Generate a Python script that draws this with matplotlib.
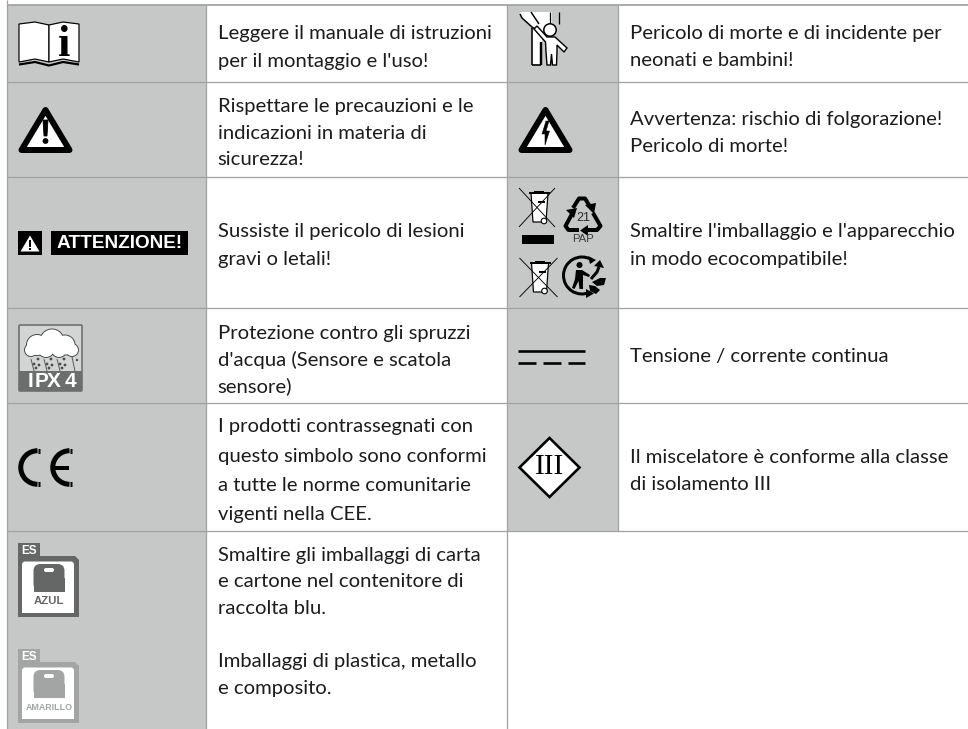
import matplotlib
matplotlib.use('Agg')
import matplotlib.pyplot as plt
from matplotlib.patches import Polygon, Rectangle, Circle, Arc, FancyBboxPatch

# table geometry (pixels)
row_edges = [4.7, 82.3, 176.5, 308.3, 402.5, 531]
col_edges = [7.3, 205.7, 507, 617.7]
GRAY = '#c6c8c8'
LINE = '#a2a4a4'
INK = '#1c1c1c'
FONT = 'Lato'
SIZE = 14.6

left_lines = ["Leggere il manuale di istruzioni", "per il montaggio e l'uso!",
              "Rispettare le precauzioni e le", "indicazioni in materia di", "sicurezza!",
              "Sussiste il pericolo di lesioni", "gravi o letali!",
              "Protezione contro gli spruzzi", "d'acqua (Sensore e scatola", "sensore)",
              "I prodotti contrassegnati con", "questo simbolo sono conformi",
              "a tutte le norme comunitarie", "vigenti nella CEE.",
              "Smaltire gli imballaggi di carta", "e cartone nel contenitore di", "raccolta blu.",
              "Imballaggi di plastica, metallo", "e composito."]
left_baselines = [39, 66.5, 111.7, 138.5, 165, 237, 265, 339, 365.5, 391.7,
                  432, 461.7, 490.7, 520, 560.7, 587, 614, 666.7, 694]

right_lines = ["Pericolo di morte e di incidente per", "neonati e bambini!",
               "Avvertenza: rischio di folgorazione!", "Pericolo di morte!",
               "Smaltire l'imballaggio e l'apparecchio", "in modo ecocompatibile!",
               "Tensione / corrente continua",
               "Il miscelatore è conforme alla classe", "di isolamento III"]
right_baselines = [39, 66, 125, 151.7, 237, 265, 362, 463, 490]

fig = plt.figure(figsize=(9.68, 7.29), dpi=100)
ax = fig.add_axes([0, 0, 1, 1])
ax.set_xlim(0, 968)
ax.set_ylim(729, 0)
ax.axis('off')

PX = 0.72  # one pixel in points


def poly(pts, fc='white', ec='black', lw=1.0, z=3, join='miter'):
    ax.add_patch(Polygon(pts, closed=True, fc=fc, ec=ec, lw=lw * PX, zorder=z, joinstyle=join))


def line(xs, ys, color='black', lw=1.0, z=4, cap='butt'):
    ax.plot(xs, ys, color=color, lw=lw * PX, zorder=z, solid_capstyle=cap, solid_joinstyle='round')


def rect(x0, y0, x1, y1, fc='black', ec='none', lw=0, z=3):
    ax.add_patch(Rectangle((x0, y0), x1 - x0, y1 - y0, fc=fc, ec=ec, lw=lw * PX, zorder=z))


def dot(x, y, r, fc='black', ec='none', lw=0, z=4):
    ax.add_patch(Circle((x, y), r, fc=fc, ec=ec, lw=lw * PX, zorder=z))


# grid -----------------------------------------------------------------
bottom = 729
rect(col_edges[0], row_edges[0], col_edges[1], bottom, fc=GRAY, z=1)
rect(col_edges[2], row_edges[0], col_edges[3], row_edges[-1], fc=GRAY, z=1)
for y in row_edges:
    line([col_edges[0], 968], [y, y], LINE, 1.3 if y > 5 else 1.8, z=2)
line([col_edges[0]] * 2, [0, bottom], LINE, 1.3, z=2)
line([col_edges[1]] * 2, [row_edges[0], bottom], LINE, 1.3, z=2)
line([col_edges[2]] * 2, [row_edges[0], bottom], LINE, 1.3, z=2)
line([col_edges[3]] * 2, [row_edges[0], row_edges[-1]], LINE, 1.3, z=2)

# text -----------------------------------------------------------------
for s, y in zip(left_lines, left_baselines):
    ax.text(217.5, y, s, family=FONT, size=SIZE, color=INK, va='baseline', ha='left')
for s, y in zip(right_lines, right_baselines):
    ax.text(629.5, y, s, family=FONT, size=SIZE, color=INK, va='baseline', ha='left')


# icons ----------------------------------------------------------------
def warning_triangle(cx, top, w, h):
    poly([(cx, top), (cx + w / 2, top + h), (cx - w / 2, top + h)], lw=6, join='round')


# book
poly([(19, 24), (35, 22), (49, 25), (49, 62), (35, 59), (19, 62)], lw=1.2)
poly([(49, 25), (63, 22), (79, 24), (79, 62), (63, 59), (49, 62)], lw=1.2)
line([19, 35, 49, 63, 79], [64.5, 62, 65.5, 62, 64.5], lw=2.2)
ax.text(64, 55.5, 'i', family='Liberation Serif', weight='bold', size=32, color='black',
        ha='center', va='baseline', zorder=5)

warning_triangle(45.5, 110, 48, 40)
poly([(43, 120), (48, 120), (47, 136), (44, 136)], fc='black', lw=0.8, z=4)
dot(45.5, 141, 2.9)

# attention label
rect(18, 231, 42, 255)
poly([(30, 235.5), (39.5, 251.5), (20.5, 251.5)], ec='none', lw=0, z=4)
rect(29, 240, 31, 247, z=5)
rect(29, 248, 31, 250, z=5)
rect(51, 231, 188, 255)
ax.text(119.5, 243.5, 'ATTENZIONE!', family='Liberation Sans', weight='bold', size=13.7,
        color='white', ha='center', va='center', zorder=5)

# IPX4
ax.add_patch(FancyBboxPatch((19, 325), 63, 66, boxstyle='round,pad=0,rounding_size=1',
                            fc='#d3d5d5', ec='#6c6e6e', lw=1.6 * PX, zorder=3))
rect(19, 371, 82, 391, fc='#6c6e6e', z=4)
for ch, x in zip('IPX4', [30.5, 41.5, 54, 70]):
    ax.text(x, 381.5, ch, family='Liberation Sans', weight='bold', size=15, color='white',
            ha='center', va='center', zorder=5)
cloud = [(37, 345, 10), (52, 341, 11.5), (65, 345, 9.5), (72, 350, 6), (31, 350, 6), (46, 349, 8), (59, 350, 7)]
for cx, cy, r in cloud:
    dot(cx, cy, r + 1, fc='#4c4e4e')
for cx, cy, r in cloud:
    dot(cx, cy, r, fc='white', z=5)
for x0 in (31, 44, 57):
    line([x0 + 0, x0 + 3], [359, 371], '#5c5e5e', 1.0)
    for dx, dy in ((3, 6), (7, 1), (8, 7), (5, 10)):
        dot(x0 + dx, 358 + dy, 1.4, fc='#4c4e4e')
line([72, 75], [357, 371], '#5c5e5e', 1.0)
dot(77, 360, 1.2, fc='#4c4e4e')

# CE
for x_c, x_end in ((37.5, 40), (69.5, 72)):
    ax.add_patch(Arc((x_c, 467.5), 33.5, 33.5, theta1=90, theta2=270, ec='black', lw=5 * PX, zorder=4))
    line([x_c, x_end], [450.7, 450.7], lw=5)
    line([x_c, x_end], [484.3, 484.3], lw=5)
line([53, 69], [467.5, 467.5], lw=4)


# Spanish collection bins
def es_bin(top, color, name, name_size):
    poly([(18, top), (40, top), (40, top + 13), (75, top + 13), (79, top + 17), (79, top + 74),
          (18, top + 74)], fc=color, ec='none', lw=0)
    ax.add_patch(FancyBboxPatch((22, top + 18.5), 52, 51, boxstyle='round,pad=0,rounding_size=3',
                                fc='white', ec='none', zorder=4))
    rect(22, top + 40, 74, top + 69.5, fc='white', z=4)
    ax.add_patch(FancyBboxPatch((33.5, top + 21), 31, 27, boxstyle='round,pad=0,rounding_size=7',
                                fc=color, ec='none', zorder=5))
    rect(33.5, top + 35, 64.5, top + 49, fc=color, z=5)
    ax.add_patch(FancyBboxPatch((44, top + 25), 10, 4, boxstyle='round,pad=0,rounding_size=2',
                                fc='white', ec='none', zorder=6))
    ax.text(29.5, top + 7.5, 'ES', family='Liberation Sans', weight='bold', size=8.5, color='white',
            ha='center', va='center', zorder=6)
    ax.text(49, top + 58.5, name, family='Liberation Sans', weight='bold', size=name_size, color=color,
            ha='center', va='center', zorder=6)


es_bin(543, '#656766', 'AZUL', 8.2)
es_bin(649, '#a3a5a5', 'AMARILLO', 6.4)

# child at the window
rect(532, 12, 558, 64, fc='white', z=3)
rect(541.5, 12, 558, 64, fc=GRAY, z=3)
rect(541, 12, 552, 32, fc='white', z=3)
line([532, 532], [26, 65], lw=1.6)
line([532, 541], [64.5, 64.5], lw=1.6)
line([541, 541], [42, 65], lw=2.4)
line([550, 550], [12, 24], lw=1.3)
line([558.5, 558.5], [12, 24], lw=1.3)
poly([(520, 12), (532, 12), (539, 23), (537, 28), (532, 28), (521, 17)], lw=0, ec='none', z=5)
line([520, 522, 532, 535], [14, 18, 27, 29], lw=1.5, z=6)
line([531, 539], [12, 24], lw=1.5, z=6)
poly([(534, 29), (537, 26), (547, 37), (555, 37), (567, 48), (564, 52), (557, 45), (557, 52),
      (556.5, 65), (552.5, 65), (551.5, 54), (550.5, 65), (547, 65), (546, 52), (545.5, 42)],
     lw=1.4, z=5)
dot(550, 30, 6.2, fc='white', ec='black', lw=1.5, z=6)

# electric shock triangle
warning_triangle(545.5, 110, 48, 40)
poly([(546, 121), (549, 121), (546, 131), (549.5, 131), (545, 145), (545, 134), (542, 134)],
     fc='black', lw=0.5, z=4)


# crossed out wheelie bin
def weee(x0, y0, w, h):
    poly([(x0 + 12, y0 + 5), (x0 + 29, y0 + 5), (x0 + 27, y0 + 34), (x0 + 14, y0 + 34)], lw=1.2)
    line([x0 + 10, x0 + 31], [y0 + 5, y0 + 5], lw=2)
    rect(x0 + 15, y0 + 2.5, x0 + 25, y0 + 4, z=5)
    rect(x0 + 19, y0 + 13, x0 + 26, y0 + 15, z=5)
    dot(x0 + 25, y0 + 33, 2.8, fc='white', ec='black', lw=1.1, z=6)
    line([x0, x0 + w], [y0, y0 + h], lw=0.9, z=7)
    line([x0 + w, x0], [y0, y0 + h], lw=0.9, z=7)


weee(519, 188, 36, 39)
weee(519.5, 258, 38, 39)
rect(522, 235, 554, 244)

# recycling triangle
for xs, ys in (([572, 565.5, 568.5, 579], [214, 226, 230, 230]),
               ([588, 597, 600.5, 593], [230, 230, 226, 213]),
               ([589, 585, 579, 573], [205, 198.5, 198.5, 208])):
    line(xs, ys, lw=4, cap='butt')
poly([(566, 210), (577, 208), (574, 218)], fc='black', ec='none', lw=0)
poly([(588, 225), (588, 236), (580, 230.5)], fc='black', ec='none', lw=0)
poly([(585, 205), (596, 203), (594, 214)], fc='black', ec='none', lw=0)
ax.text(583, 217.5, '21', family='Liberation Sans', size=9, color='#2a2a2a', ha='center', va='center', zorder=5)
ax.text(583, 238.5, 'PAP', family='Liberation Sans', size=8.2, color='#3a3a3a', ha='center', va='center', zorder=5)

# triman logo
ax.add_patch(Arc((582, 275.5), 37, 37, theta1=65, theta2=300, ec='black', lw=3 * PX, zorder=4))
poly([(588, 256), (596, 260), (590, 264)], fc='black', ec='none', lw=0)
poly([(586, 289), (594, 293.5), (586, 298)], fc='black', ec='none', lw=0)
dot(579.5, 265, 3)
poly([(576, 270), (582, 270), (590, 275), (589, 277), (583, 275), (583, 289), (579.5, 289), (578.5, 281),
      (574.5, 289), (572, 288), (575, 279)], fc='black', ec='none', lw=0)
line([591, 597, 599], [279, 272, 267], lw=3)
poly([(594, 266), (600, 260), (604, 268)], fc='black', ec='none', lw=0)
poly([(592, 282), (600, 278), (606, 278), (604, 285), (597, 286)], fc='black', ec='none', lw=0)
poly([(589, 285), (595, 286), (600, 290), (596, 294), (590, 291)], fc='black', ec='none', lw=0)

# direct current
line([518, 585], [351, 351], lw=2.6)
for a, b in zip([518, 543, 567.5], [535.5, 560.5, 585]):
    line([a, b], [363, 363], lw=2.6)

# class III diamond
poly([(549.5, 438), (579.5, 467.5), (549.5, 497), (519.5, 467.5)], lw=2.6)
ax.text(549.5, 466.5, 'III', family='Liberation Serif', size=21, color='black', ha='center', va='center', zorder=5)

fig.savefig('out.png', dpi=100, facecolor='white')
